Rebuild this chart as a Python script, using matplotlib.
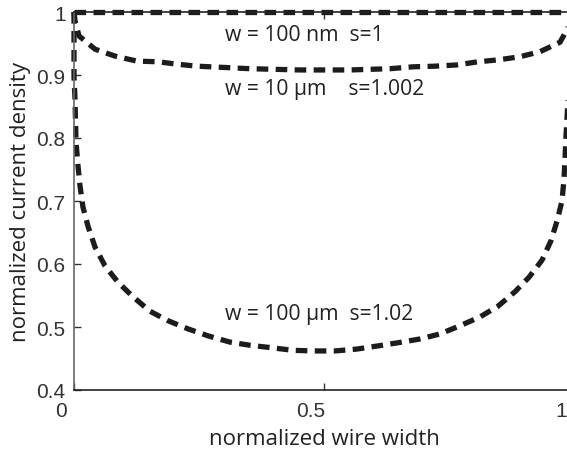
import matplotlib.pyplot as plt
from matplotlib.transforms import ScaledTranslation

# Values
# w = 100 nm, s = 1 (flat)
x_100nm = [0.0, 1.0]
j_100nm = [1.0, 1.0]

# w = 10 um, s = 1.002
x_10um = [0.0, 0.002, 0.010, 0.042, 0.082, 0.126, 0.168, 0.208, 0.246, 0.300,
          0.352, 0.452, 0.552, 0.632, 0.678, 0.722, 0.766, 0.808, 0.848, 0.892,
          0.932, 0.972, 0.986, 1.0]
j_10um = [1.0, 0.986, 0.962, 0.941, 0.930, 0.922, 0.921, 0.917, 0.914, 0.912,
          0.910, 0.908, 0.908, 0.910, 0.913, 0.914, 0.916, 0.921, 0.924, 0.929,
          0.937, 0.952, 0.972, 1.0]

# w = 100 um, s = 1.02
x_100um = [0.0, 0.0, 0.002, 0.004, 0.008, 0.012, 0.018, 0.028, 0.042, 0.062,
           0.088, 0.118, 0.152, 0.188, 0.228, 0.268, 0.312, 0.352, 0.396, 0.438,
           0.478, 0.522, 0.566, 0.608, 0.648, 0.692, 0.732, 0.772, 0.812, 0.848,
           0.882, 0.910, 0.936, 0.954, 0.966, 0.976, 0.980, 0.982, 0.984, 0.988,
           0.995, 1.0]
j_100um = [1.0, 0.898, 0.862, 0.794, 0.756, 0.724, 0.690, 0.660, 0.627, 0.597,
           0.571, 0.548, 0.525, 0.510, 0.497, 0.486, 0.476, 0.471, 0.467, 0.463,
           0.462, 0.462, 0.465, 0.470, 0.475, 0.481, 0.489, 0.502, 0.516, 0.533,
           0.556, 0.579, 0.606, 0.637, 0.668, 0.700, 0.735, 0.767, 0.803, 0.860,
           0.950, 1.0]

# Annotation texts and where they sit (data coords)
labels = ['w = 100 nm  s=1', 'w = 10 µm    s=1.002', 'w = 100 µm  s=1.02']
label_x = [0.302, 0.302, 0.302]
label_y = [0.965, 0.878, 0.522]

x_ticks = [0, 0.5, 1]
x_ticklabels = ['0', '0.5', '1']
y_ticks = [0.4, 0.5, 0.6, 0.7, 0.8, 0.9, 1.0]
y_ticklabels = ['0.4', '0.5', '0.6', '0.7', '0.8', '0.9', '1']

tick_font = 'Liberation Sans'
text_font = 'Open Sans'

fig = plt.figure(figsize=(5.67, 4.6), dpi=100)
ax = fig.add_axes([74 / 567, 69 / 460, 500 / 567, 378 / 460])

line_style = dict(color='#1c1c1c', linewidth=3.8, linestyle=(0, (2.2, 1.4)),
                  dash_capstyle='butt', clip_on=False)
ax.plot(x_100nm, j_100nm, **line_style)
ax.plot(x_10um, j_10um, **line_style)
ax.plot(x_100um, j_100um, **line_style)

for txt, tx, ty in zip(labels, label_x, label_y):
    ax.text(tx, ty, txt, fontsize=15.2, family=text_font, va='center', ha='left',
            color='#222222')

ax.set_xlim(0, 1)
ax.set_ylim(0.4, 1)
ax.set_xticks(x_ticks)
ax.set_xticklabels(x_ticklabels, family=tick_font, fontsize=15)
ax.set_yticks(y_ticks)
ax.set_yticklabels(y_ticklabels, family=tick_font, fontsize=15)
ax.tick_params(direction='in', length=5, width=1, colors='#333333',
               top=True, right=True, pad=6)
ax.tick_params(axis='x', pad=8)

# x tick labels sit a bit left of their ticks in the reference
shift = ScaledTranslation(-13 / 100, 0, fig.dpi_scale_trans)
for lab in ax.get_xticklabels():
    lab.set_transform(lab.get_transform() + shift)

for side in ['left', 'right']:
    ax.spines[side].set_color('#666666')
for side in ['top', 'bottom']:
    ax.spines[side].set_color('#222222')
for sp in ax.spines.values():
    sp.set_linewidth(1.2)

ax.set_xlabel('normalized wire width', family=text_font, fontsize=16,
              color='#222222', labelpad=6)
ax.set_ylabel('normalized current density', family=text_font, fontsize=16,
              color='#222222', labelpad=4)

fig.savefig('out.png', dpi=100)
plt.close()
